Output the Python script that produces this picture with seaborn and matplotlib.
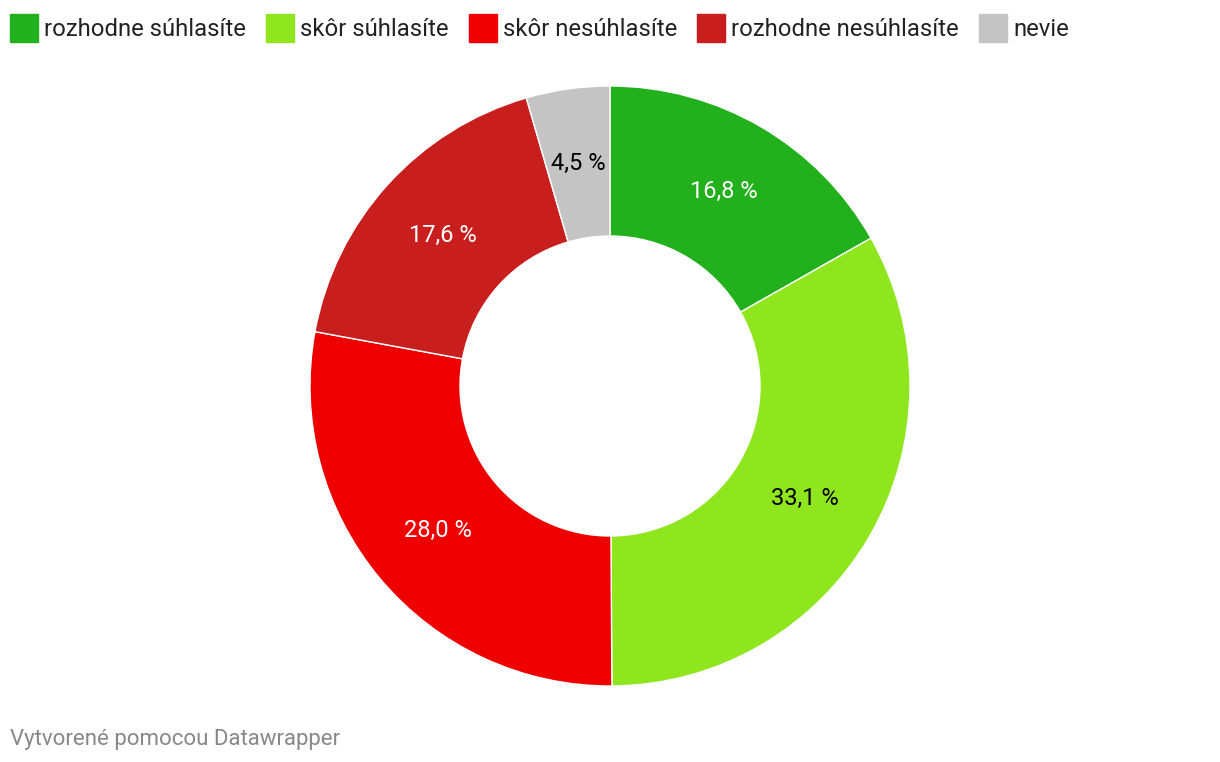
import matplotlib
matplotlib.use("Agg")
import matplotlib.pyplot as plt
import matplotlib.patches as mpatches
import seaborn as sns

categories = ["rozhodne súhlasíte", "skôr súhlasíte", "skôr nesúhlasíte",
              "rozhodne nesúhlasíte", "nevie"]
values = [16.8, 33.1, 28.0, 17.6, 4.5]
colors = ["#22b01c", "#8fe61f", "#ee0000", "#c81e1e", "#c4c4c4"]
label_colors = ["white", "black", "white", "white", "black"]

sns.set_theme(style="white")
plt.rcParams["font.family"] = ["Roboto", "DejaVu Sans"]

fig = plt.figure(figsize=(12.2, 7.62), dpi=100)
ax = fig.add_axes([(610 - 300) / 1220, (762 - 686) / 762, 600 / 1220, 600 / 762])

wedges, texts, autotexts = ax.pie(
    values, colors=colors, startangle=90, counterclock=False,
    radius=1.0, pctdistance=0.75,
    autopct=lambda p: f"{p:.1f} %".replace(".", ","),
    wedgeprops=dict(width=0.5, edgecolor="white", linewidth=1),
)
for t, c in zip(autotexts, label_colors):
    t.set_color(c)
    t.set_fontsize(17)
ax.set_xlim(-1, 1)
ax.set_ylim(-1, 1)
ax.set_aspect("equal")
ax.axis("off")

# legend across the top
handles = [mpatches.Patch(color=c, label=l) for c, l in zip(colors, categories)]
fig.legend(handles=handles, loc="center left",
           bbox_to_anchor=(10 / 1220, 1 - 28 / 762),
           ncol=5, frameon=False, fontsize=17.2, handlelength=1.17,
           handleheight=1.45, handletextpad=0.25, columnspacing=0.85,
           borderaxespad=0.0, borderpad=0.0, labelcolor="#222222")

fig.text(10 / 1220, 1 - 740 / 762, "Vytvorené pomocou Datawrapper",
         fontsize=16, color="#888888", va="center", ha="left")

fig.savefig("out.png", dpi=100)
